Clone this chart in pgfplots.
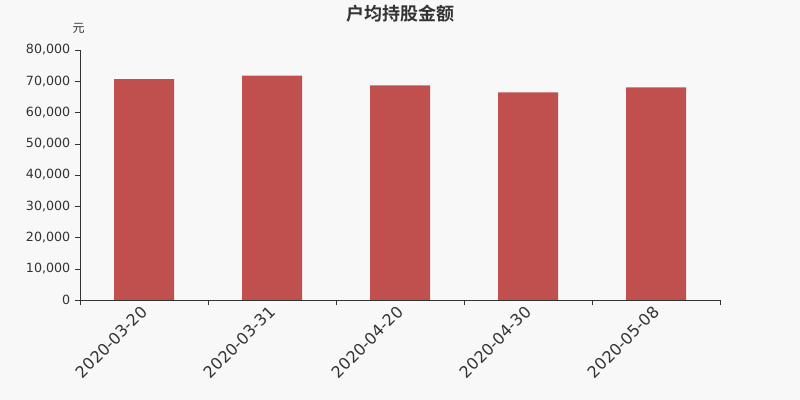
\documentclass[border=0pt]{standalone}
\usepackage{pgfplots}
\pgfplotsset{compat=1.18}
\usepackage{fontspec}
\setmainfont{DejaVu Sans}
\newfontfamily\cjk{Noto Sans CJK SC}
\newfontfamily\cjkb{Noto Sans CJK SC Bold}
\definecolor{bg}{HTML}{F8F8F8}
\definecolor{barc}{HTML}{C0504D}
\definecolor{txt}{HTML}{333333}
\begin{document}
\begin{tikzpicture}
\useasboundingbox (0pt,0pt) rectangle (600pt,300pt);
\fill[bg] (0pt,0pt) rectangle (600pt,300pt);
\node[txt,font=\cjkb\fontsize{13.5}{14}\selectfont] at (300pt,289.5pt) {户均持股金额};
\node[txt,font=\cjk\fontsize{9}{10}\selectfont] at (59pt,279pt) {元};
\begin{axis}[
  at={(60pt,75pt)}, anchor=south west,
  scale only axis, width=480pt, height=187.5pt,
  xmin=-0.5, xmax=4.5, ymin=0, ymax=80000,
  axis x line=bottom, axis y line=left,
  axis line style={txt,-},
  xtick={-0.5,0.5,1.5,2.5,3.5,4.5},
  xticklabels={},
  extra x ticks={0,1,2,3,4},
  extra x tick labels={2020-03-20,2020-03-31,2020-04-20,2020-04-30,2020-05-08},
  extra x tick style={major tick length=0pt, tick style={draw=none},
    xticklabel style={rotate=45, anchor=east, font=\fontsize{12}{12}\selectfont, text=txt, inner sep=1pt, yshift=-5pt, xshift=-3.5pt}},
  tick style={txt}, major tick length=3.75pt, tick align=outside,
  ytick={0,10000,...,80000},
  yticklabels={0,{10,000},{20,000},{30,000},{40,000},{50,000},{60,000},{70,000},{80,000}},
  yticklabel style={font=\fontsize{9.5}{10}\selectfont, text=txt},
  scaled y ticks=false,
  ybar, bar width=45pt,
]
\addplot[fill=barc, draw=none] coordinates {(0,70700) (1,71800) (2,68700) (3,66450) (4,68050)};
\end{axis}
\end{tikzpicture}
\end{document}
